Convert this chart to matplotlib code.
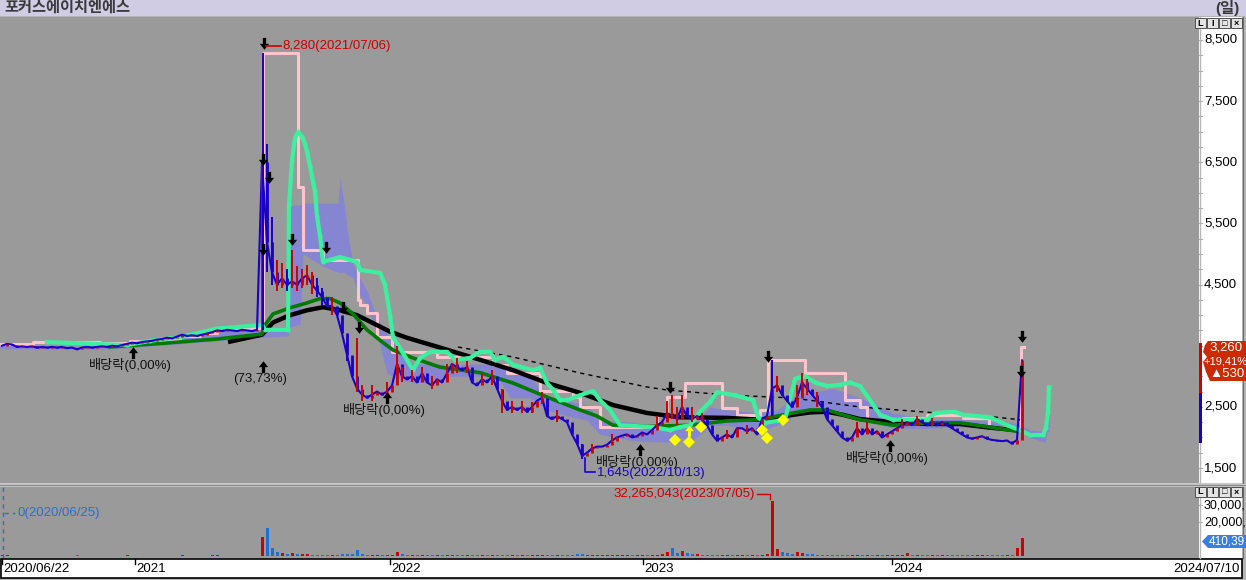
import numpy as np
import matplotlib
matplotlib.use("Agg")
import matplotlib.pyplot as plt
from matplotlib import font_manager
from matplotlib.path import Path
from matplotlib.patches import Rectangle, Polygon
from matplotlib.transforms import blended_transform_factory

# ---------------------------------------------------------------- data
stock_name = "포커스에이치엔에스"
period_label = "(일)"
date_tick_days = [2, 135, 390, 643, 892]
date_tick_labels = ["2020/06/22", "2021", "2022", "2023", "2024"]
last_date_label = "2024/07/10"
price_ticks = [1500, 2500, 4500, 5500, 6500, 7500, 8500]   # 3,500 is hidden by the price box
price_minor_step = 250
volume_ticks = [20000, 30000]
volume_tick_labels = ["20,000,", "30,000,"]

# weekly closes (one value every 5 trading days, first = 2020/06/22)
close = [
    3500, 3530, 3520, 3480, 3490, 3480, 3490, 3470, 3480, 3470,
    3480, 3470, 3480, 3460, 3470, 3440, 3470, 3480, 3470, 3480,
    3490, 3480, 3500, 3490, 3510, 3530, 3550, 3540, 3560, 3570,
    3580, 3600, 3610, 3630, 3620, 3650, 3680, 3660, 3670, 3660,
    3680, 3700, 3720, 3750, 3740, 3760, 3750, 3740, 3760, 3750,
    3740, 3760, 6500, 5200, 4700, 4500, 4600, 4500, 4550, 4500,
    4600, 4650, 4500, 4400, 4300, 4150, 4150, 4000, 3700, 3350,
    3000, 2800, 2700, 2650, 2700, 2750, 2700, 2750, 2850, 3200,
    3000, 2950, 3000, 2900, 3050, 2900, 2850, 2950, 2900, 3050,
    3200, 3150, 3100, 3150, 2900, 2850, 2950, 2900, 3000, 2800,
    2600, 2450, 2500, 2450, 2500, 2420, 2500, 2600, 2650, 2350,
    2300, 2350, 2300, 2250, 2050, 1900, 1700, 1750, 1820, 1850,
    1850, 1880, 1950, 2000, 2030, 2050, 2000, 2020, 2080, 2050,
    2120, 2200, 2250, 2400, 2350, 2300, 2500, 2350, 2300, 2350,
    2300, 2200, 2050, 1950, 2000, 2050, 2000, 2150, 2150, 2100,
    2150, 2050, 2300, 2350, 2800, 2850, 2700, 2600, 2500, 2650,
    2900, 2800, 2700, 2600, 2500, 2300, 2200, 2100, 2000, 1950,
    2000, 2150, 2050, 2150, 2050, 2100, 2000, 2050, 2100, 2150,
    2200, 2250, 2200, 2300, 2250, 2200, 2250, 2200, 2250, 2200,
    2150, 2100, 2050, 2000, 1980, 2000, 2020, 1980, 1960, 1950,
    1940, 1950, 1900, 1960, 3260,
]
# weekly volume, thousand shares
volume = [
    320, 510, 260, 180, 240, 150, 210, 170, 260, 190,
    230, 160, 200, 150, 220, 380, 170, 190, 160, 210,
    180, 170, 230, 160, 250, 300, 270, 190, 220, 210,
    240, 260, 220, 250, 190, 280, 330, 200, 210, 190,
    240, 280, 300, 350, 230, 260, 220, 210, 250, 230,
    220, 260,
    11200, 16500, 4700, 2600, 1500, 1300, 1900, 1000, 900, 1100,
    800, 700, 650, 800, 600, 700, 900, 1200, 1400, 3500,
    900, 700, 600, 500, 550, 500, 600, 2300,
    900, 700, 600, 550, 600, 500, 450, 500, 480, 520,
    700, 600, 500, 480, 450, 400, 420, 450, 500, 420,
    600, 550, 450, 400, 380, 400, 420, 380, 450, 500,
    420, 400, 450, 600, 700, 900, 1200, 800, 700, 600,
    550, 500, 480, 450, 420, 400, 450, 420, 400, 450,
    500, 600, 900,
    2500, 4700, 1500, 3000, 1800, 1200, 900, 800, 700, 600,
    550, 500, 480, 450, 500, 450, 420, 480, 500, 700, 900,
    32265, 4200, 2600, 1500, 1100, 2100,
    1500, 1200, 900, 800, 700, 600, 550, 500, 450, 420,
    400, 450, 400, 380, 400, 420, 380, 360, 400, 420,
    450, 1500, 500, 600, 500, 450, 420, 400, 380, 400,
    420, 380, 360, 350, 380, 360, 340, 350, 330, 340,
    320, 350, 380,
    4500, 10600,
]
# intraday ranges (day, low, high, up?)
wick_day = [263, 267, 272, 277, 282, 287, 292, 297, 302, 307, 312, 317, 322, 332, 347,
            357, 362, 372, 387, 397, 402, 412, 422, 432, 447, 457, 467, 482, 492, 502,
            512, 522, 532, 542, 557, 582, 592, 612, 657, 667, 672, 677, 682, 692, 702,
            727, 747, 772, 777, 797, 802, 807, 817, 857, 867, 902, 917, 932]
wick_low = [3760, 4700, 4500, 4400, 4450, 4400, 4450, 4400, 4450, 4500, 4350, 4300, 4150, 4000, 3250,
            2750, 2600, 2600, 2650, 2950, 2900, 2900, 2900, 2800, 2950, 3050, 3050, 2850, 2850, 2400,
            2400, 2400, 2400, 2550, 2250, 1645, 1760, 1900, 2150, 2300, 2300, 2200, 2300, 2250, 2250,
            1980, 2050, 2350, 2750, 2550, 2700, 2700, 2500, 2050, 2050, 2150, 2200, 2180]
wick_high = [8280, 6800, 5600, 4900, 4850, 4750, 5066, 4800, 4750, 4820, 4700, 4600, 4450, 4300, 3550,
             3626, 2850, 2850, 2900, 3500, 3150, 3100, 3150, 3000, 3200, 3300, 3250, 3050, 3100, 2800,
             2600, 2600, 2580, 2750, 2450, 1900, 1900, 2050, 2350, 2600, 2700, 2500, 2700, 2500, 2400,
             2120, 2200, 3260, 3000, 2850, 3050, 2950, 2750, 2250, 2250, 2300, 2350, 2320]
wick_up = [False, False, False, True, True, False, True, True, True, True, True, False, False, True, False,
           True, True, True, True, True, True, True, True, True, True, True, True, True, True, True,
           True, True, True, True, True, False, True, True, True, True, True, True, True, True, True,
           True, True, False, True, True, True, True, True, True, True, True, True, True]

# long moving average (black)
ma_long_day = [228, 262, 273, 290, 307, 323, 340, 357, 373, 390, 407, 440, 480, 513, 547, 580,
               613, 647, 680, 727, 760, 793, 810, 827, 843, 860, 893, 927, 960, 990, 1017]
ma_long = [3560, 3680, 3880, 4000, 4080, 4130, 4080, 4000, 3870, 3730, 3630, 3470, 3270, 3100, 2890, 2730,
           2530, 2400, 2330, 2320, 2290, 2370, 2410, 2420, 2370, 2300, 2250, 2220, 2220, 2160, 2120]
# mid moving average (green)
ma_mid_day = [110, 167, 217, 262, 265, 273, 290, 307, 320, 330, 340, 353, 367, 380, 393, 413, 440, 480,
              513, 547, 580, 597, 613, 647, 690, 727, 760, 777, 793, 810, 827, 843, 860, 893, 930, 960, 990, 1017]
ma_mid = [3480, 3545, 3610, 3690, 3840, 4020, 4120, 4200, 4270, 4270, 4200, 4020, 3760, 3590, 3430, 3300, 3150, 3060,
          2890, 2660, 2450, 2350, 2200, 2180, 2200, 2270, 2290, 2350, 2400, 2450, 2450, 2370, 2290, 2200, 2240, 2240, 2170, 2100]
# 240-day line (dashed)
ma_240_day = [458, 513, 580, 647, 667, 727, 793, 860, 937, 985, 1020]
ma_240 = [3479, 3316, 3054, 2825, 2776, 2694, 2645, 2498, 2400, 2350, 2290]
# base line (pink step)
base_day = [0, 33, 100, 130, 150, 180, 200, 217, 263, 298, 303, 323, 358, 360, 367, 377, 392, 437, 493, 507,
            540, 573, 580, 600, 657, 667, 685, 722, 737, 760, 768, 805, 845, 860, 867, 903, 927, 963, 989, 1010, 1021, 1024]
base = [3530, 3560, 3540, 3580, 3600, 3660, 3700, 3790, 8280, 6096, 5066, 4902, 4248, 4166, 4035, 3643, 3397, 3316, 3185, 3054,
        2759, 2661, 2498, 2171, 2367, 2661, 2890, 2481, 2367, 2449, 3266, 3054, 2612, 2498, 2285, 2318, 2367, 2318, 2171, 2122, 3480, 3480]
# leading span (teal)
span_day = [47, 127, 150, 180, 217, 262, 265, 288, 289, 292, 295, 298, 302, 305, 307, 310, 313, 315, 317, 320,
            323, 340, 357, 360, 380, 385, 390, 393, 403, 413, 420, 430, 447, 455, 470, 480, 490, 495, 503, 513,
            533, 540, 547, 553, 560, 567, 580, 593, 600, 610, 620, 653, 670, 680, 690, 700, 710, 717, 735, 753,
            758, 765, 785, 795, 805, 815, 827, 840, 850, 860, 870, 880, 893, 927, 935, 955, 963, 990, 1007, 1020,
            1030, 1043, 1046, 1048, 1049]
span = [3560, 3510, 3580, 3640, 3780, 3840, 3760, 3760, 5800, 6538, 6900, 7000, 6920, 6800, 6670, 6440, 6180, 6030, 5620, 5300,
        4870, 4950, 4870, 4740, 4690, 4500, 4000, 3640, 3380, 3100, 3300, 3400, 3400, 3270, 3300, 3400, 3400, 3270, 3320, 3190,
        3100, 3140, 2890, 2780, 2610, 2610, 2690, 2760, 2610, 2450, 2200, 2170, 2120, 2170, 2200, 2420, 2580, 2740, 2690, 2610,
        2330, 2240, 2290, 2960, 3000, 2900, 2840, 2860, 2900, 2840, 2610, 2370, 2290, 2290, 2400, 2420, 2370, 2330, 2200, 2120,
        2040, 2040, 2160, 2420, 2820]
# cloud (lavender band)
cloud_day = [0, 100, 130, 180, 217, 262, 288, 289, 300, 303, 323, 338, 340, 344, 348, 353, 357, 367, 377, 387,
             393, 400, 413, 440, 447, 467, 497, 510, 530, 547, 567, 587, 600, 633, 667, 680, 693, 710, 727, 760,
             777, 800, 833, 860, 893, 927, 960, 1017, 1030, 1045, 1047, 1049]
cloud_lo = [3450, 3440, 3470, 3530, 3580, 3640, 3660, 3800, 3850, 5000, 4800, 4700, 4700, 4700, 4650, 4620, 4400, 4150, 3700, 3050,
            3000, 2950, 2900, 2900, 3000, 3000, 3000, 2650, 2650, 2450, 2350, 2280, 2050, 1950, 1920, 2000, 1950, 2200, 2200, 2100,
            2200, 2400, 2400, 2300, 2150, 2150, 2170, 2130, 2000, 1920, 2100, 2100]
cloud_hi = [3510, 3490, 3530, 3620, 3740, 3800, 3800, 5800, 5800, 5830, 5830, 5830, 6240, 5830, 5300, 4850, 4700, 4400, 3950, 3700,
            3600, 3400, 3200, 3200, 3150, 3200, 3200, 3150, 3000, 2650, 2600, 2530, 2280, 2250, 2120, 2200, 2200, 2500, 2450, 2400,
            2450, 2700, 2800, 2650, 2400, 2300, 2300, 2230, 2120, 2100, 2400, 2700]
# signals
signal_day = [675, 689, 701, 762, 767, 783]
signal_price = [1958, 1925, 2171, 2122, 1991, 2285]
down_arrow_day = [264, 263, 269, 263, 292, 326, 343, 359, 670, 768, 1022, 1021]
down_arrow_price = [8435, 6538, 6243, 5066, 5229, 5098, 4117, 3790, 2808, 3316, 3643, 3070]
event_day = [133, 263, 387, 640, 890]
event_price = [3397, 3168, 2661, 1810, 1876]
event_label = ["배당락(0,00%)", "(73,73%)", "배당락(0,00%)", "배당락(0,00%)", "배당락(0,00%)"]
high_day, high_value, high_label = 264, 8280, "8,280(2021/07/06)"
low_day, low_value, low_label = 585, 1645, "1,645(2022/10/13)"
last_close, last_change_pct, last_change = "3,260", "+19,41%", "▲530"
vol_max_label = "32,265,043(2023/07/05)"
vol_min_label = "0(2020/06/25)"
last_volume_label = "410,39"

# ---------------------------------------------------------------- style
names = {f.name for f in font_manager.fontManager.ttflist}
NARROW = "Liberation Sans Narrow" if "Liberation Sans Narrow" in names else "Liberation Sans"
FONT = [NARROW, "Noto Sans CJK KR", "DejaVu Sans"]
plt.rcParams["font.family"] = FONT

RED = "#cc0000"
BLUE = "#1a00c8"
PANEL = "#9a9a9a"
PINK = "#ffc4cc"
TEAL = "#3cf0a0"
LAV = "#8585d2"
GREEN = "#007a00"

W, H = 1246, 580
fig = plt.figure(figsize=(W / 100, H / 100), dpi=100)
fig.patch.set_facecolor("#b4b4b4")


def px_axes(x0, y0, x1, y1, z=0):
    return fig.add_axes([x0 / W, 1 - y1 / H, (x1 - x0) / W, (y1 - y0) / H], zorder=z)


def clean(a):
    a.set_xticks([])
    a.set_yticks([])
    for s in a.spines.values():
        s.set_visible(False)


XMAX = 1199
ax = px_axes(0, 17, XMAX, 483, 1)
ax.set_facecolor(PANEL)
ax.set_xlim(0, XMAX)
ax.set_ylim(1255, 8876)
clean(ax)

axv = px_axes(0, 487, XMAX, 558, 1)
axv.set_facecolor(PANEL)
axv.set_xlim(0, XMAX)
axv.set_ylim(-1180, 40600)
clean(axv)

days = np.arange(2, 2 + 5 * len(close), 5)
c = np.array(close, float)
o = np.r_[c[0], c[:-1]]
up = c >= o

# cloud
ax.fill_between(cloud_day, cloud_lo, cloud_hi, color=LAV, lw=0, zorder=1)
# dashed long line
ax.plot(ma_240_day, ma_240, color="black", lw=1.0, dashes=(3, 3), zorder=2)
# base step line
ax.plot(base_day, base, color=PINK, lw=2.2, drawstyle="steps-post", zorder=3)
# moving averages
ax.plot(ma_long_day, ma_long, color="black", lw=3.2, zorder=4, solid_capstyle="butt")
ax.plot(ma_mid_day, ma_mid, color=GREEN, lw=2.6, zorder=5)
# leading span
ax.plot(span_day, span, color=TEAL, lw=3.0, zorder=6)
ax.plot(span_day, span, "o", color=TEAL, ms=3.0, mew=0, zorder=6)
# price
ax.plot(days, c, color=BLUE, lw=1.5, zorder=7)
ax.vlines(days[up], o[up], c[up], color=RED, lw=2.0, zorder=8)
ax.vlines(days[~up], c[~up], o[~up], color=BLUE, lw=2.0, zorder=8)
for d, lo, hi, u in zip(wick_day, wick_low, wick_high, wick_up):
    ax.vlines(d, lo, hi, color=RED if u else BLUE, lw=1.4, zorder=8)

# arrows
down = Path([(-0.25, 1.0), (0.25, 1.0), (0.25, 0.1), (0.7, 0.1), (0.0, -0.8),
             (-0.7, 0.1), (-0.25, 0.1), (-0.25, 1.0)],
            [Path.MOVETO] + [Path.LINETO] * 6 + [Path.CLOSEPOLY])
upv = down.vertices.copy()
upv[:, 1] *= -1
uparrow = Path(upv, down.codes)
ax.plot(down_arrow_day, down_arrow_price, ls="none", marker=down, ms=9.5, color="black", mew=0, zorder=10)
ax.plot(event_day, event_price, ls="none", marker=uparrow, ms=9.5, color="black", mew=0, zorder=10)
ax.plot(signal_day, signal_price, ls="none", marker="D", ms=6, color="#ffff00", mew=0, zorder=9)
ax.plot([689], [2122], ls="none", marker=uparrow, ms=9, color="#ffff00", mew=0, zorder=9)

for d, p, lab in zip(event_day, event_price, event_label):
    ax.text(d - 3, p - 215, lab, ha="center", va="center", fontsize=9.5, color="#111111", zorder=11)

# high / low annotations
ax.plot([high_day + 2, high_day + 17], [8402, 8402], color=RED, lw=1.2, zorder=11)
ax.text(high_day + 18, 8402, high_label, color=RED, fontsize=9.5, va="center", ha="left", zorder=11)
ax.plot([low_day, low_day, low_day + 10], [1662, 1430, 1430], color=BLUE, lw=1.2, zorder=11)
ax.text(low_day + 12, 1425, low_label, color=BLUE, fontsize=9.5, va="center", ha="left", zorder=11)

# volume
vcol = np.where(up, RED, "#1f6fd8")
axv.bar(days, volume, width=3, color=vcol, lw=0, zorder=2)
axv.axvline(3, color="#2a6fd0", lw=1, dashes=(3, 3), zorder=3)
axv.plot([4, 15], [25290, 25290], color="#2a6fd0", lw=1, dashes=(3, 3), zorder=3)
axv.text(17, 25290, vol_min_label, color="#2a6fd0", fontsize=9.5, va="center", ha="left", zorder=4)
axv.text(755, 36470, vol_max_label, color=RED, fontsize=9.5, va="center", ha="right", zorder=4)
axv.plot([757, 770, 770], [36470, 36470, 33500], color=RED, lw=1, zorder=4)

# ---------------------------------------------------------------- overlay (pixel coords)
ov = fig.add_axes([0, 0, 1, 1], zorder=20)
ov.set_xlim(0, W)
ov.set_ylim(H, 0)
ov.axis("off")
ov.patch.set_alpha(0)

# title bar
ov.add_patch(Rectangle((0, 0), W, 16, fc="#cfcce4", ec="none"))
ov.text(4, 8, stock_name, fontsize=11, fontweight="bold", color="#3a3a3a", va="center", ha="left")
ov.text(1240, 8, period_label, fontsize=11, fontweight="bold", color="#3a3a3a", va="center", ha="right")

# separators
ov.add_patch(Rectangle((0, 483), W, 4, fc="#c6c6c6", ec="none"))
ov.plot([0, W], [484.5, 484.5], color="#8a8a8a", lw=0.8)

# right axis panels
for (y0, y1) in [(17, 483), (487, 558)]:
    ov.add_patch(Rectangle((1199, y0), 43, y1 - y0, fc="white", ec="none"))
    ov.plot([1199.5, 1199.5], [y0, y1], color="#b8b8b8", lw=1)
    ov.add_patch(Rectangle((1242, y0), 4, y1 - y0, fc="#b8b8b8", ec="none"))
    ov.plot([1243, 1243], [y0, y1], color="#6a6a6a", lw=0.8)

py = blended_transform_factory(ov.transData, ax.transData)
for p in np.arange(1500, 8751, price_minor_step):
    ov.plot([1199, 1202], [p, p], color="#b0b0b0", lw=0.8, transform=py)
for p in price_ticks:
    ov.text(1204, p, f"{p:,}", fontsize=9.5, va="center", ha="left", color="black", transform=py, zorder=2)

vy = blended_transform_factory(ov.transData, axv.transData)
for v, lab in zip(volume_ticks, volume_tick_labels):
    ov.plot([1199, 1202], [v, v], color="#b0b0b0", lw=0.8, transform=vy)
    ov.text(1204, v, lab, fontsize=9, va="center", ha="left", color="black", transform=vy, zorder=2)

# current price marker on axis
ov.add_patch(Rectangle((1199, 343), 3, 50, fc=RED, ec="none", zorder=5))
ov.add_patch(Rectangle((1199, 393), 3, 50, fc=BLUE, ec="none", zorder=5))
ov.add_patch(Polygon([(1208, 341), (1246, 341), (1246, 381), (1210, 381), (1206, 372), (1203, 362),
                      (1207, 357), (1203, 352), (1205, 345)], closed=True, fc="#cc2a00", ec="none", zorder=5))
ov.text(1209, 348, last_close, fontsize=9.5, color="white", va="center", ha="left", zorder=6)
ov.text(1203, 361, last_change_pct, fontsize=8, color="white", va="center", ha="left", zorder=6)
ov.text(1209, 374, last_change, fontsize=9.5, color="white", va="center", ha="left", zorder=6)

# last volume marker
ov.add_patch(Polygon([(1208, 535), (1246, 535), (1246, 548), (1208, 548), (1202, 541.5)], closed=True,
                     fc="#3b7fe0", ec="none", zorder=5))
ov.text(1209, 541.5, last_volume_label, fontsize=8.5, color="white", va="center", ha="left", zorder=6)

# panel buttons
for yb in (18, 487):
    for k, g in enumerate(["L", "I", "□", "×"]):
        x0 = 1195 + k * 12
        ov.add_patch(Rectangle((x0, yb), 11, 10, fc="#e4e4e4", ec="#505050", lw=0.7, zorder=7))
        ov.text(x0 + 5.5, yb + 5, g, fontsize=6.5, fontweight="bold", color="black",
                ha="center", va="center", zorder=8)

# date axis
ov.add_patch(Rectangle((0.5, 559), 1241.5, 19, fc="white", ec="black", lw=1.2))
dx = blended_transform_factory(ax.transData, ov.transData)
for d, lab in zip(date_tick_days, date_tick_labels):
    ov.plot([d, d], [559, 564], color="black", lw=1, transform=dx)
    ov.text(d + 1, 569.5, lab, fontsize=9.5, va="center", ha="left", color="black", transform=dx)
ov.text(1240, 569.5, last_date_label, fontsize=9.5, va="center", ha="right", color="black")

fig.savefig("out.png", dpi=100, facecolor=fig.get_facecolor())
